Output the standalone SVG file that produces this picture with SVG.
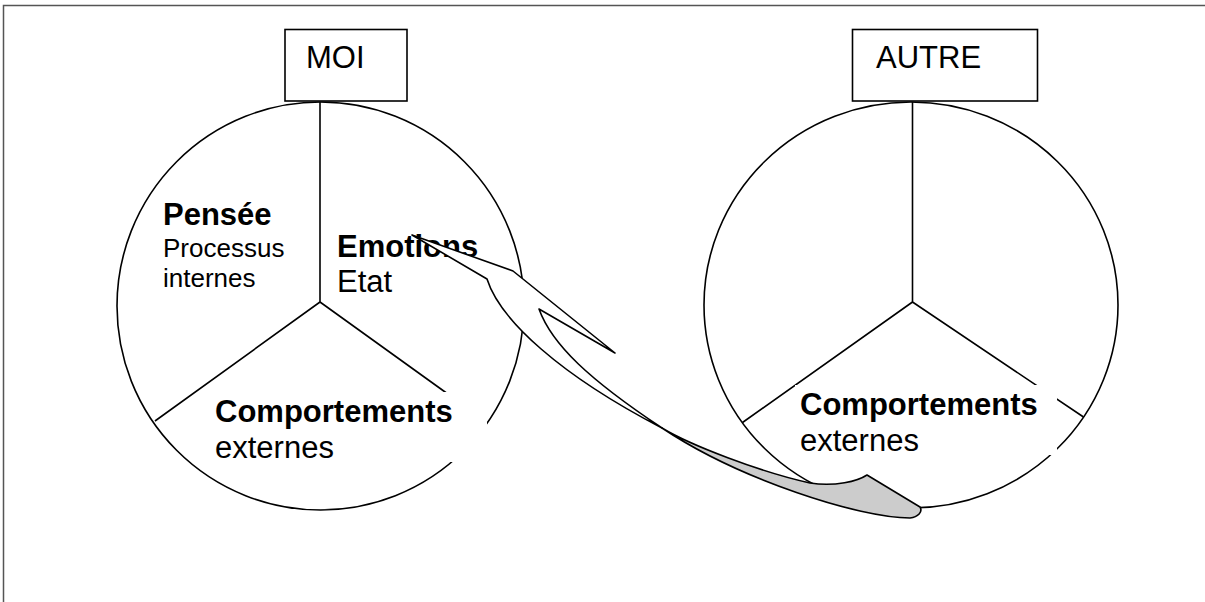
<svg xmlns="http://www.w3.org/2000/svg" width="1205" height="602" viewBox="0 0 1205 602">
<style>
.ln{fill:none;stroke:#000;stroke-width:1.6}
.bx{fill:#fff;stroke:#000;stroke-width:1.6}
.ci{fill:#fff;stroke:#000;stroke-width:1.6}
.cover{fill:#fff;stroke:none}
.t{font-family:"Liberation Sans",Arial,sans-serif;fill:#000}
.big{font-size:31px}
.sm{font-size:26px}
.b{font-weight:bold}
.arw{fill:#fff;stroke:#000;stroke-width:1.6;stroke-linejoin:round}
.arg{fill:#cccccc;stroke:#000;stroke-width:1.6;stroke-linejoin:round}
</style>
<rect width="1205" height="602" fill="#fff"/>
<path d="M3.5,602 V5.5 H1205" fill="none" stroke="#555" stroke-width="1.5"/>

<g id="moi">
<ellipse class="ci" cx="320.5" cy="306" rx="203.5" ry="204"/>
<path class="ln" d="M320,102 V302 M320,302 L155,421 M320,302 L484,420"/>
<rect class="bx" x="285" y="29.5" width="122" height="71.5"/>
<text class="t big" x="306" y="68">MOI</text>
<text class="t big b" x="163" y="225">Pensée</text>
<text class="t sm" x="163" y="257">Processus</text>
<text class="t sm" x="163" y="287">internes</text>
<text class="t big b" x="337" y="257">Emotions</text>
<text class="t big" x="337" y="292">Etat</text>
<rect class="cover" x="207" y="392" width="280" height="70"/>
<text class="t big b" x="215" y="422">Comportements</text>
<text class="t big" x="215" y="458">externes</text>
</g>

<g id="autre">
<ellipse class="ci" cx="911" cy="305" rx="207" ry="203"/>
<path class="ln" d="M912.5,102 V302 M912.5,302 L742.5,422.5 M912.5,302 L1083.5,417"/>
<rect class="bx" x="852.5" y="29.5" width="185" height="71.5"/>
<text class="t big" x="876" y="68">AUTRE</text>
<rect class="cover" x="795" y="385" width="262" height="70"/>
<text class="t big b" x="800" y="415">Comportements</text>
<text class="t big" x="800" y="451">externes</text>
</g>

<g id="connectors">
<path class="arw" d="M412,235 L513,271 L615,353 L539,309 C552,345 590,380 662,428 C560,375 500,320 487,279 Z"/>
<path class="arg" d="M662,428 C690,445 760,472 810,483 C835,487 858,481 867,475 L920,507 C923,512 918,517 910,518 C860,518 740,480 662,428 Z"/>
</g>
</svg>
